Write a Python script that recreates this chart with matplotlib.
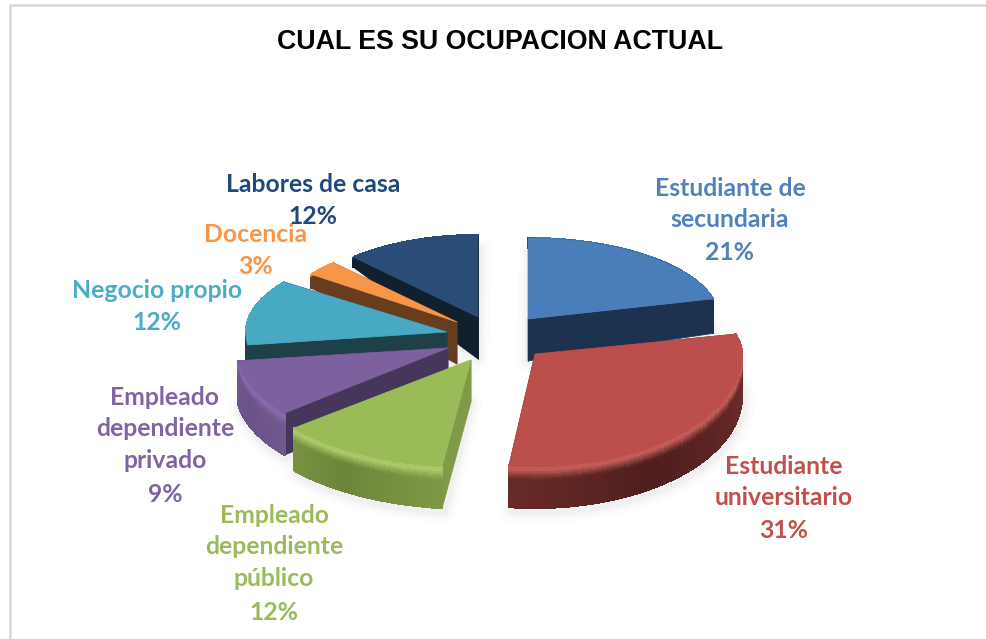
import numpy as np
import matplotlib
matplotlib.use("Agg")
import matplotlib.pyplot as plt
from matplotlib.collections import PolyCollection
from matplotlib.colors import to_rgb

categorias = ["Estudiante de\nsecundaria", "Estudiante\nuniversitario", "Empleado\ndependiente\npúblico",
              "Empleado\ndependiente\nprivado", "Negocio propio", "Docencia", "Labores de casa"]
valores = [21, 31, 12, 9, 12, 3, 12]
colores = ["#4F81BD", "#C0504D", "#9BBB59", "#8064A2", "#4BACC6", "#F79646", "#1F497D"]
tapas = ["#4A7EBB", "#BC4F4C", "#9BBB59", "#7D609E", "#47A9C3", "#F79646", "#2A4C77"]
paredes = ["#1D324E", "#4E1F1D", "#7F9A48", "#47365C", "#1D4049", "#673D1E", "#10202F"]
bordes = ["#1D324E", "#4E1F1D", "#6D8539", "#6A5387", "#1D4049", "#673D1E", "#10202F"]
brillos = ["#1D324E", "#C8605C", "#B0CE6C", "#8A6CB0", "#5CC4E0", "#FFA860", "#2A4C77"]
degradado = [0, 0.35, 0.35, 0.35, 0, 0, 0]

# geometria de cada porcion en pixeles: centro, radio x, radio y atras, radio y adelante
centros = [(528, 319), (535, 354), (471, 360), (448, 348), (447, 332), (457, 322), (478, 317)]
radio_x = [191, 207, 230, 212, 201, 180, 182]
radio_atras = [81, 80, 107, 102, 85, 81, 82]
radio_adelante = [81, 112, 107, 102, 104, 81, 82]
orden = [6, 5, 0, 4, 3, 1, 2]

pos_etiquetas = [(730, 204), (784, 482), (274, 547), (165, 429), (157, 290), (256, 234), (313, 184)]
pos_porcentaje = [(730, 253), (784, 531), (274, 612), (165, 495), (157, 322), (256, 266), (313, 217)]

fig = plt.figure(figsize=(9.87, 6.39), dpi=100)
ax = fig.add_axes([0, 0, 1, 1])
ax.set_xlim(0, 987)
ax.set_ylim(639, 0)
ax.axis("off")

# marco del grafico (solo arriba e izquierda)
ax.plot([9.5, 9.5, 987], [639, 5, 5], color="#D9D9D9", lw=2, zorder=1)


def profundidad(y):
    return np.clip(10 + (y - 270) * 0.85, 10, 42)


def mezcla(c1, c2, t):
    return tuple(np.array(to_rgb(c1)) * (1 - t) + np.array(to_rgb(c2)) * t)


def punto(i, ang):
    cx, cy = centros[i]
    c = np.cos(ang)
    ry = np.where(c > 0, radio_atras[i], radio_adelante[i])
    return cx + radio_x[i] * np.sin(ang), cy - ry * c


fracciones = np.cumsum([0] + valores) / sum(valores) * 2 * np.pi
z = 5
for i in orden:
    a = np.linspace(fracciones[i], fracciones[i + 1], 80)
    x, y = punto(i, a)
    cx, cy = centros[i]
    d = profundidad(y)
    d0 = profundidad(cy)

    # sombra suave debajo de la porcion
    sx = np.r_[cx, x + 2, cx]
    sy = np.r_[cy + d0, y + d + 4, cy + d0]
    for lw, al in [(16, 0.025), (10, 0.035), (5, 0.05)]:
        ax.plot(sx, sy, color="#808080", lw=lw, alpha=al, zorder=z, solid_capstyle="round")
    z += 1

    # paredes radiales
    for xe, ye, de in [(x[0], y[0], d[0]), (x[-1], y[-1], d[-1])]:
        ax.fill([cx, xe, xe, cx], [cy, ye, ye + de, cy + d0], color=paredes[i], lw=0.5, zorder=z)
    z += 1

    # borde curvo con degradado y bisel claro arriba
    polys, cols = [], []
    vs = np.linspace(0, 1, 21)
    for k in range(len(a) - 1):
        t = abs(k / (len(a) - 2) - 0.62)
        base = mezcla(bordes[i], tapas[i], min(degradado[i], t * 0.6))
        for v0, v1 in zip(vs[:-1], vs[1:]):
            polys.append([(x[k], y[k] + v0 * d[k]), (x[k + 1], y[k + 1] + v0 * d[k + 1]),
                          (x[k + 1], y[k + 1] + v1 * d[k + 1]), (x[k], y[k] + v1 * d[k])])
            if v0 < 0.08:
                cols.append(mezcla(tapas[i], brillos[i], v0 / 0.08))
            elif v0 < 0.32:
                cols.append(mezcla(brillos[i], base, (v0 - 0.08) / 0.24))
            else:
                cols.append(base)
    ax.add_collection(PolyCollection(polys, facecolors=cols, edgecolors="face", linewidths=0.8,
                                     antialiaseds=False, zorder=z))
    z += 1

    # tapa superior
    ax.fill(np.r_[cx, x], np.r_[cy, y], color=tapas[i], lw=0.5, zorder=z)
    z += 1

for i in range(len(valores)):
    ex, ey = pos_etiquetas[i]
    ax.text(ex, ey, categorias[i], color=colores[i], fontsize=17.8, fontweight="bold", family="Lato",
            ha="center", va="center", linespacing=1.45, zorder=100)
    px, py = pos_porcentaje[i]
    ax.text(px, py, f"{valores[i]}%", color=colores[i], fontsize=17.8, fontweight="bold", family="Lato",
            ha="center", va="center", zorder=100)

ax.text(500, 42, "CUAL ES SU OCUPACION ACTUAL", fontsize=19.3, fontweight="bold",
        family="Liberation Sans", color="black", ha="center", va="center", zorder=100)

fig.savefig("out.png", dpi=100)
